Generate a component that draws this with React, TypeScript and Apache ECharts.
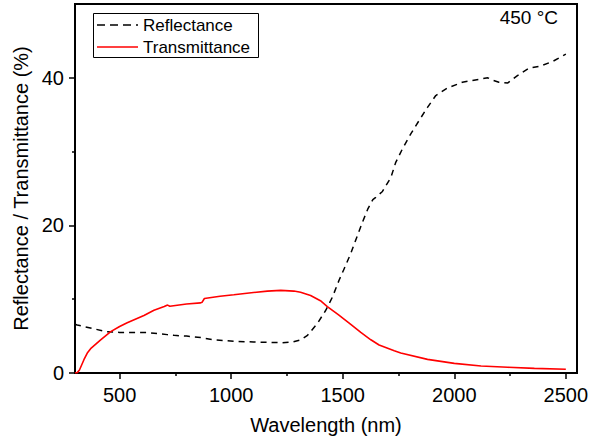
import React, { useEffect, useRef } from "react";
import * as echarts from "echarts";

const reflWl = [300, 310, 340, 384, 437, 500, 563, 620, 669, 713, 744, 800, 863, 923, 1013, 1100, 1162, 1230, 1275, 1313, 1342, 1386, 1424, 1454, 1484, 1506, 1536, 1558, 1588, 1612, 1635, 1648, 1678, 1716, 1737, 1768, 1805, 1842, 1880, 1917, 1969, 2036, 2111, 2150, 2170, 2200, 2240, 2283, 2335, 2387, 2440, 2500];
const reflVal = [6.6, 6.5, 6.3, 6.0, 5.6, 5.5, 5.5, 5.5, 5.35, 5.2, 5.1, 5.0, 4.8, 4.5, 4.3, 4.2, 4.15, 4.1, 4.2, 4.5, 5.1, 6.7, 8.5, 10.3, 12.6, 14.1, 16.2, 18.0, 20.4, 22.2, 23.5, 23.8, 24.6, 26.5, 28.5, 30.4, 32.4, 34.2, 36.0, 37.6, 38.6, 39.4, 39.8, 40.0, 39.7, 39.4, 39.3, 40.3, 41.3, 41.6, 42.2, 43.2];

const transWl = [300, 310, 320, 340, 355, 370, 415, 460, 500, 534, 609, 654, 700, 715, 725, 800, 863, 870, 880, 950, 1012, 1100, 1162, 1222, 1281, 1311, 1356, 1400, 1431, 1480, 1536, 1581, 1626, 1663, 1731, 1760, 1880, 2000, 2120, 2240, 2359, 2500];
const transVal = [0, 0.05, 0.4, 1.8, 2.7, 3.3, 4.5, 5.6, 6.3, 6.8, 7.8, 8.5, 9.0, 9.2, 9.05, 9.35, 9.5, 9.6, 10.1, 10.4, 10.6, 10.9, 11.1, 11.2, 11.1, 10.95, 10.5, 9.8, 9.0, 7.9, 6.6, 5.5, 4.5, 3.8, 3.0, 2.7, 1.85, 1.3, 0.95, 0.77, 0.63, 0.5];

const xMajor = [500, 1000, 1500, 2000, 2500];
const xMinor = [750, 1250, 1750, 2250];
const yMajor = [0, 20, 40];
const yMinor = [10, 30];

const seriesNames = ["Reflectance", "Transmittance"];

const FONT = "Liberation Sans";

export default function App() {
  const ref = useRef<HTMLDivElement>(null);
  useEffect(() => {
    if (!ref.current) return;
    const chart = echarts.init(ref.current, undefined, { renderer: "svg" });
    const axisCommon = {
      type: "value",
      splitLine: { show: false },
    };
    const fmt = (v: number) => String(v);
    const option: any = {
      animation: false,
      backgroundColor: "#fff",
      grid: {
        left: 75,
        right: 15,
        top: 4,
        bottom: 71,
        show: true,
        borderColor: "#000",
        borderWidth: 2,
        backgroundColor: "transparent",
      },
      xAxis: [
        {
          ...axisCommon,
          min: 300,
          max: 2550,
          name: "Wavelength (nm)",
          nameLocation: "middle",
          nameGap: 42,
          nameTextStyle: { fontFamily: FONT, fontSize: 20, color: "#000" },
          axisLine: { show: true, lineStyle: { color: "#000", width: 2 } },
          axisTick: { show: true, length: 6, lineStyle: { color: "#000", width: 1.5 }, customValues: xMajor },
          axisLabel: { show: true, margin: 12, fontFamily: FONT, fontSize: 20, color: "#000", customValues: xMajor, formatter: fmt },
        },
        {
          ...axisCommon,
          min: 300,
          max: 2550,
          position: "bottom",
          axisLine: { show: false },
          axisTick: { show: true, length: 3, lineStyle: { color: "#000", width: 1.5 }, customValues: xMinor },
          axisLabel: { show: false },
        },
      ],
      yAxis: [
        {
          ...axisCommon,
          min: 0,
          max: 50,
          name: "Reflectance / Transmittance (%)",
          nameLocation: "middle",
          nameGap: 42,
          nameTextStyle: { fontFamily: FONT, fontSize: 20, color: "#000" },
          axisLine: { show: true, lineStyle: { color: "#000", width: 2 } },
          axisTick: { show: true, length: 6, lineStyle: { color: "#000", width: 1.5 }, customValues: yMajor },
          axisLabel: { show: true, margin: 11, fontFamily: FONT, fontSize: 20, color: "#000", customValues: yMajor, formatter: fmt },
        },
        {
          ...axisCommon,
          min: 0,
          max: 50,
          position: "left",
          axisLine: { show: false },
          axisTick: { show: true, length: 3, lineStyle: { color: "#000", width: 1.5 }, customValues: yMinor },
          axisLabel: { show: false },
        },
      ],
      graphic: [
        {
          type: "rect",
          shape: { x: 93.5, y: 13.5, width: 165, height: 44 },
          style: { fill: "#fff", stroke: "#000", lineWidth: 1 },
          z: 10,
        },
        {
          type: "line",
          shape: { x1: 97, y1: 25, x2: 138, y2: 25 },
          style: { stroke: "#000", lineWidth: 1.5, lineDash: [8, 5] },
          z: 11,
        },
        {
          type: "line",
          shape: { x1: 97, y1: 47, x2: 138, y2: 47 },
          style: { stroke: "#ff0000", lineWidth: 1.6 },
          z: 11,
        },
        {
          type: "text",
          x: 143,
          y: 25,
          style: { text: seriesNames[0], fontFamily: FONT, fontSize: 17, fill: "#000", verticalAlign: "middle" },
          z: 11,
        },
        {
          type: "text",
          x: 143,
          y: 47,
          style: { text: seriesNames[1], fontFamily: FONT, fontSize: 17, fill: "#000", verticalAlign: "middle" },
          z: 11,
        },
        {
          type: "text",
          right: 34,
          top: 8,
          style: { text: "450 °C", fontFamily: FONT, fontSize: 19, fill: "#000" },
        },
      ],
      series: [
        {
          name: seriesNames[0],
          type: "line",
          showSymbol: false,
          symbol: "none",
          data: reflWl.map((w, i) => [w, reflVal[i]]),
          itemStyle: { color: "#000" },
          lineStyle: { color: "#000", width: 1.5, type: [6, 5] },
        },
        {
          name: seriesNames[1],
          type: "line",
          showSymbol: false,
          symbol: "none",
          data: transWl.map((w, i) => [w, transVal[i]]),
          itemStyle: { color: "#ff0000" },
          lineStyle: { color: "#ff0000", width: 1.6 },
        },
      ],
    };
    chart.setOption(option);
    return () => chart.dispose();
  }, []);
  return (
    <div
      ref={ref}
      style={{ position: "fixed", left: 0, top: 0, width: 592, height: 444, background: "#fff" }}
    />
  );
}
